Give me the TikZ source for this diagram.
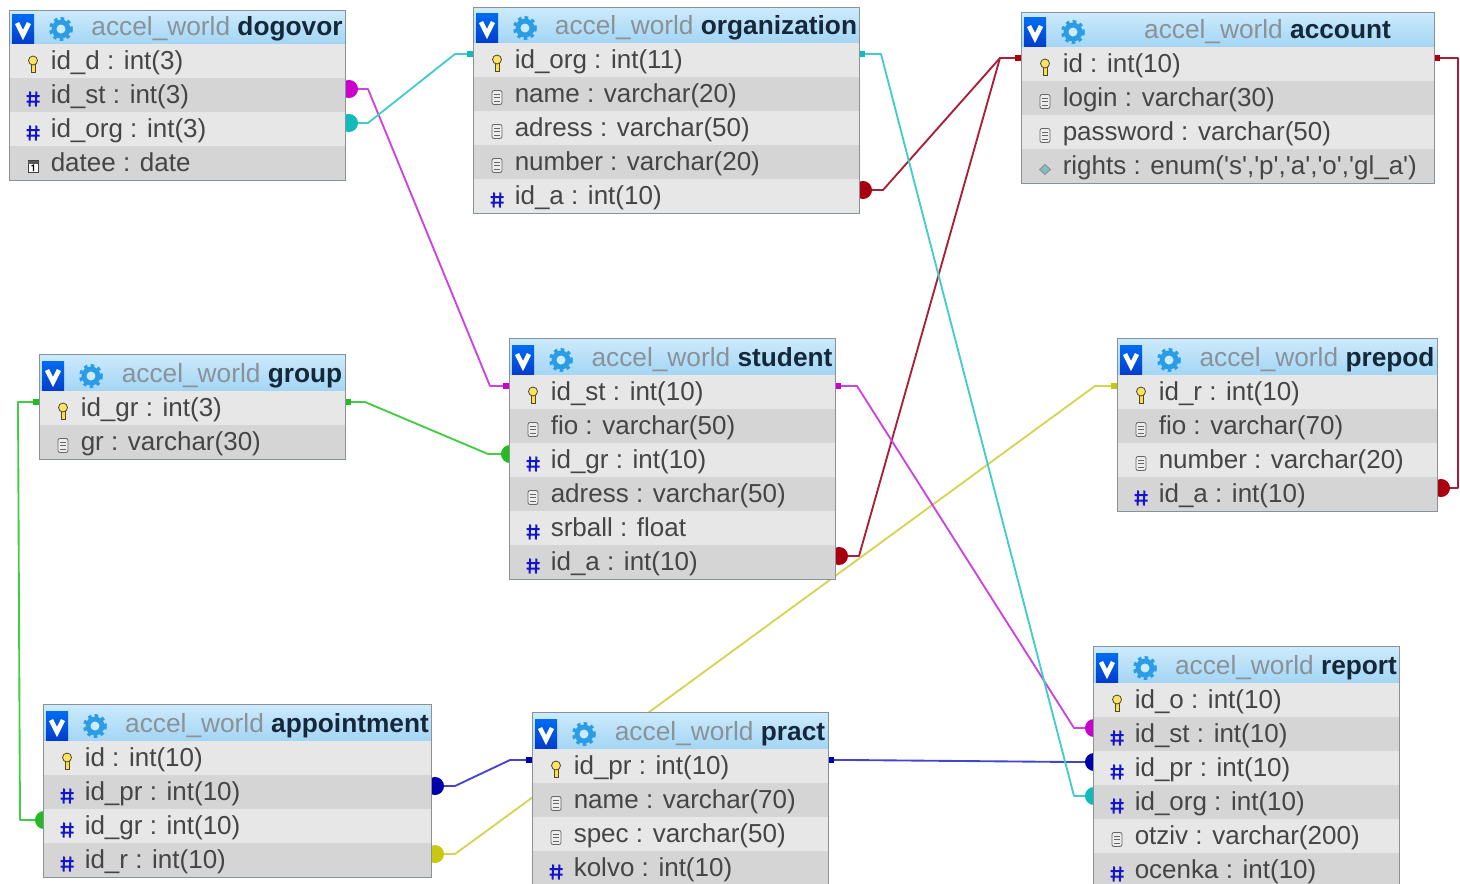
\documentclass[tikz,border=0pt]{standalone}
\usepackage{fontspec}
\setmainfont{Liberation Sans}
\usetikzlibrary{arrows.meta, calc, backgrounds}
\definecolor{rowlight}{HTML}{E7E7E7}
\definecolor{rowdark}{HTML}{D5D5D5}
\definecolor{headtop}{HTML}{CDEBFC}
\definecolor{headbot}{HTML}{A3D5F4}
\definecolor{dbgrey}{HTML}{8A9299}
\definecolor{dbname}{HTML}{14283A}
\definecolor{rowtext}{HTML}{454545}
\definecolor{hashblue}{HTML}{1414C8}
\definecolor{gearblue}{HTML}{2A9DE6}
\definecolor{magline}{HTML}{CC44DD}
\definecolor{magdot}{HTML}{CC00CC}
\definecolor{cyanline}{HTML}{44CCCC}
\definecolor{cyandot}{HTML}{11BBBB}
\definecolor{redline}{HTML}{A82035}
\definecolor{reddot}{HTML}{A80010}
\definecolor{greenline}{HTML}{44CC44}
\definecolor{greendot}{HTML}{22BB22}
\definecolor{blueline}{HTML}{4444CC}
\definecolor{bluedot}{HTML}{0000AA}
\definecolor{yellowline}{HTML}{D4D455}
\definecolor{yellowdot}{HTML}{C8C810}
\tikzset{
  dbrow/.style={rectangle, anchor=north west, minimum height=25.5pt, inner sep=0pt, outer sep=0pt},
  dbhead/.style={rectangle, anchor=north west, inner sep=0pt, outer sep=0pt, top color=headtop, bottom color=headbot},
  dblabel/.style={anchor=base west, inner sep=0pt, text=rowtext, font=\fontsize{19.5}{22}\selectfont},
  dbtitle/.style={anchor=center, inner sep=0pt, font=\fontsize{19.7}{22}\selectfont},
  link/.style n args={2}{draw=#1, line width=1.4pt, line join=round,
    arrows={Circle[color=#2, length=13.5pt]-Rectangle[color=#2, length=4.5pt, width=5pt]}, shorten <=-3.75pt},
  linkw/.style={shorten <=-7.5pt}
}
% row icons
\newcommand{\iconkey}{
  \draw[draw=black!60!olive, fill=yellow!70!orange!70, line width=0.5pt] (-2,-1) rectangle (2,8);
  \draw[draw=black!60!olive, fill=yellow!70!orange!60, line width=0.6pt] (0,-4) circle (4.5);
}
\newcommand{\iconnum}{
  \draw[hashblue, line width=1.5pt] (-2.8,-7) -- (-3.4,8) (3.4,-7) -- (2.8,8) (-6.5,-2.5) -- (6.5,-2.5) (-6.5,3) -- (6.5,3);
}
\newcommand{\icondoc}{
  \draw[draw=black!60, fill=white!93!black, rounded corners=1.5pt, line width=0.6pt] (-5,-7) rectangle (5,7);
  \draw[black!60, line width=0.5pt] (-3,-3.5) -- (3,-3.5) (-3,0) -- (3,0) (-3,3.5) -- (3,3.5);
}
\newcommand{\icondate}{
  \draw[draw=black!75, fill=white, line width=0.6pt] (-5,-6) rectangle (5,6);
  \fill[black!65] (-5,-6) rectangle (5,-3);
  \draw[black, line width=0.8pt] (-1.5,-0.5) -- (0.5,-1.5) -- (0.5,4.5);
}
\newcommand{\iconenum}{
  \draw[draw=black!45, fill=teal!50, line width=0.6pt] (0,-5) -- (5.5,0) -- (0,5) -- (-5.5,0) -- cycle;
}
% one table: [header offset], name, left, centre of first row, width, rows
\newcommand{\dbtable}[6][54]{
  \node[dbhead, minimum width=#5*0.75pt, minimum height=(#1-17)*0.75pt] (#2-head) at (#3,#4-#1) {};
  \shade[top color=blue!55!cyan!95!black, bottom color=blue!70!cyan!80!black] (#3+3,#4-47) rectangle (#3+25,#4-18);
  \draw[white, line width=3.4pt] (#3+8,#4-38) -- (#3+14,#4-26) -- (#3+20,#4-38);
  \fill[gearblue] (#3+52,#4-32) circle (9.5);
  \draw[gearblue, line width=3pt, dash pattern=on 2.5pt off 2.5pt] (#3+52,#4-32) circle (10);
  \fill[headtop] (#3+52,#4-32) circle (4.5);
  \node[dbtitle] (#2-title) at ({#3+#5/2+40},#4-32) {\textcolor{dbgrey}{accel\_world} \textcolor{dbname}{\textbf{#2}}};
  \foreach \ty/\txt [count=\i] in {#6}{
    \ifodd\i \def\rowfill{rowlight}\else \def\rowfill{rowdark}\fi
    \node[dbrow, fill=\rowfill, minimum width=#5*0.75pt] (#2-\i) at (#3,{#4-17+34*(\i-1)}) {};
    \node[dblabel] (#2-\i-txt) at (#3+41.5,{#4+8+34*(\i-1)}) {\txt};
    \begin{scope}[shift={(#3+24,{#4+3.5+34*(\i-1)})}]
      \csname icon\ty\endcsname
    \end{scope}
    \coordinate (#2-\i-e) at (#3+#5,{#4-6+34*(\i-1)});
    \coordinate (#2-\i-w) at (#3,{#4-6+34*(\i-1)});
    \xdef\lastrow{\i}
  }
  \draw[dbgrey, line width=0.7pt] (#2-head.north west) rectangle (#2-\lastrow.south east);
}
\newcommand{\enumrights}{rights : enum(\textquotesingle s\textquotesingle,\textquotesingle p\textquotesingle,\textquotesingle a\textquotesingle,\textquotesingle o\textquotesingle,\textquotesingle gl\_a\textquotesingle)}

\begin{document}
\begin{tikzpicture}[x=0.75pt, y=-0.75pt]
  \useasboundingbox (0,0) rectangle (1460,883);
  \clip (0,0) rectangle (1460,883);

  % Tables
  \dbtable[51]{dogovor}{9}{61}{336}{key/id\_d : int(3), num/id\_st : int(3), num/id\_org : int(3), date/datee : date}
  \dbtable[53]{organization}{473}{60}{386}{key/id\_org : int(11), doc/name : varchar(20), doc/adress : varchar(50), doc/number : varchar(20), num/id\_a : int(10)}
  \dbtable[52]{account}{1021}{64}{413}{key/id : int(10), doc/login : varchar(30), doc/password : varchar(50), enum/\enumrights}
  \dbtable{group}{39}{408}{306}{key/id\_gr : int(3), doc/gr : varchar(30)}
  \dbtable{student}{509}{392}{326}{key/id\_st : int(10), doc/fio : varchar(50), num/id\_gr : int(10), doc/adress : varchar(50), num/srball : float, num/id\_a : int(10)}
  \dbtable{prepod}{1117}{392}{320}{key/id\_r : int(10), doc/fio : varchar(70), doc/number : varchar(20), num/id\_a : int(10)}
  \dbtable{appointment}{43}{758}{388}{key/id : int(10), num/id\_pr : int(10), num/id\_gr : int(10), num/id\_r : int(10)}
  \dbtable{pract}{532}{766}{296}{key/id\_pr : int(10), doc/name : varchar(70), doc/spec : varchar(50), num/kolvo : int(10)}
  \dbtable{report}{1093}{700}{306}{key/id\_o : int(10), num/id\_st : int(10), num/id\_pr : int(10), num/id\_org : int(10), doc/otziv : varchar(200), num/ocenka : int(10)}

  % Relations
  \begin{pgfonlayer}{background}
    \draw[link={magline}{magdot}] (dogovor-2-e) -- ++(23,0) -- ($(student-1-w)+(-19,0)$) -- (student-1-w);
    \draw[link={cyanline}{cyandot}] (dogovor-3-e) -- ++(23,0) -- ($(organization-1-w)+(-18,0)$) -- (organization-1-w);
    \draw[link={redline}{reddot}] (organization-5-e) -- ++(24,0) -- ($(account-1-w)+(-21,0)$) -- (account-1-w);
    \draw[link={redline}{reddot}] (student-6-e) -- ++(24,0) -- ($(account-1-w)+(-21,0)$) -- (account-1-w);
    \draw[link={redline}{reddot}] (prepod-4-e) -- ++(21,0) |- (account-1-e);
    \draw[link={greenline}{greendot}, linkw] (student-3-w) -- ++(-21,0) -- ($(group-1-e)+(20,0)$) -- (group-1-e);
    \draw[link={greenline}{greendot}, linkw] (appointment-3-w) -- ++(-23,0) -- ($(group-1-w)+(-21,0)$) -- (group-1-w);
    \draw[link={blueline}{bluedot}] (appointment-2-e) -- ++(24,0) -- ($(pract-1-w)+(-22,0)$) -- (pract-1-w);
    \draw[link={yellowline}{yellowdot}] (appointment-4-e) -- ++(24,0) -- ($(prepod-1-w)+(-22,0)$) -- (prepod-1-w);
    \draw[link={blueline}{bluedot}, linkw] (report-3-w) -- ++(-21,0) -- ($(pract-1-e)+(22,0)$) -- (pract-1-e);
    \draw[link={magline}{magdot}, linkw] (report-2-w) -- ++(-19,0) -- ($(student-1-e)+(22,0)$) -- (student-1-e);
    \draw[link={cyanline}{cyandot}, linkw] (report-4-w) -- ++(-19,0) -- ($(organization-1-e)+(22,0)$) -- (organization-1-e);
  \end{pgfonlayer}
\end{tikzpicture}
\end{document}
